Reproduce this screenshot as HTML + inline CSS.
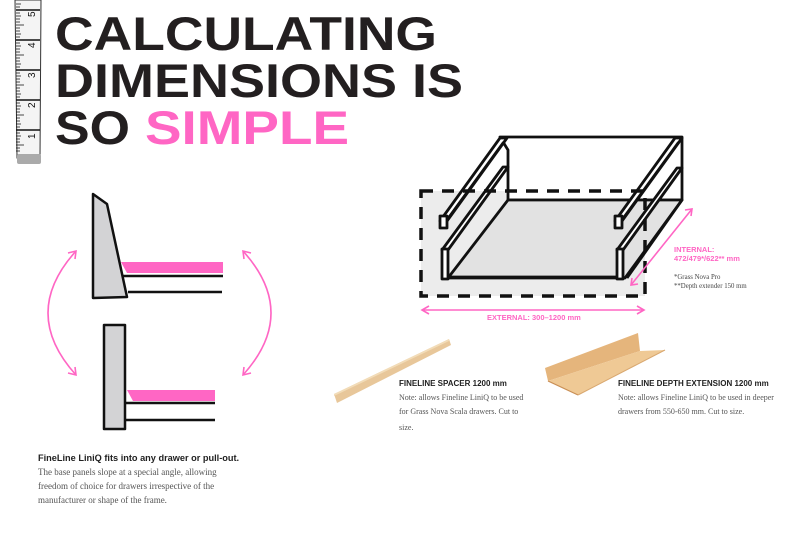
<!DOCTYPE html>
<html><head><meta charset="utf-8"><style>
html,body{margin:0;padding:0;background:#fff;}
body{width:800px;height:533px;overflow:hidden;position:relative;}
svg{position:absolute;left:0;top:0;}
</style></head><body>
<svg width="800" height="533" viewBox="0 0 800 533" xmlns="http://www.w3.org/2000/svg">
<!-- tape measure -->
<g>
<polygon points="15,0 41,0 40,158 17,158" fill="#f4f4f4" stroke="#333" stroke-width="1"/>
<rect x="17" y="154" width="24" height="10" rx="2" fill="#aaa"/>
<g stroke="#111" stroke-width="1.5">
<line x1="16" y1="10" x2="40" y2="10"/>
<line x1="16" y1="40" x2="40" y2="40"/>
<line x1="16" y1="70" x2="40" y2="70"/>
<line x1="16" y1="100" x2="40" y2="100"/>
<line x1="16" y1="130" x2="40" y2="130"/>
</g>
<g stroke="#111" stroke-width="0.8">
<path d="M16 4h5M16 7h4M16 13h4M16 16h5M16 19h4M16 22h4M16 25h8M16 28h4M16 31h4M16 34h5M16 37h4M16 43h4M16 46h5M16 49h4M16 52h4M16 55h8M16 58h4M16 61h4M16 64h5M16 67h4M16 73h4M16 76h5M16 79h4M16 82h4M16 85h8M16 88h4M16 91h4M16 94h5M16 97h4M16 103h4M16 106h5M16 109h4M16 112h4M16 115h8M16 118h4M16 121h4M16 124h5M16 127h4M16 133h4M16 136h5M16 139h4M16 142h4M16 145h8M16 148h4M16 151h4"/>
</g>
<g font-family="Liberation Sans, sans-serif" font-size="10" fill="#111">
<text transform="translate(35,17) rotate(-90)">5</text>
<text transform="translate(35,48) rotate(-90)">4</text>
<text transform="translate(35,78) rotate(-90)">3</text>
<text transform="translate(35,108) rotate(-90)">2</text>
<text transform="translate(35,139) rotate(-90)">1</text>
</g>
</g>
<!-- title -->
<g font-family="Liberation Sans, sans-serif" font-weight="bold" font-size="47">
<text x="55" y="50" fill="#231f20" textLength="382" lengthAdjust="spacingAndGlyphs">CALCULATING</text>
<text x="55" y="97" fill="#231f20" textLength="408" lengthAdjust="spacingAndGlyphs">DIMENSIONS IS</text>
<text x="55" y="144" fill="#231f20" textLength="75" lengthAdjust="spacingAndGlyphs">SO</text>
<text x="145" y="144" fill="#ff66c4" textLength="204" lengthAdjust="spacingAndGlyphs">SIMPLE</text>
</g>
<!-- left figure -->
<g stroke="#111" stroke-width="2.5" stroke-linejoin="round">
<polygon points="93,194 107,204 127,297 93,298" fill="#d3d3d5"/>
<polygon points="121,262 223,262 223,273 127,273" fill="#ff66c4" stroke="none"/>
<line x1="122" y1="276" x2="223" y2="276"/>
<line x1="128" y1="292" x2="222" y2="292"/>
<rect x="104" y="325" width="21" height="104" fill="#d3d3d5"/>
<polygon points="127,390 215,390 215,401 133,401" fill="#ff66c4" stroke="none"/>
<line x1="125" y1="403" x2="215" y2="403"/>
<line x1="125" y1="420" x2="215" y2="420"/>
</g>
<g stroke="#ff66c4" stroke-width="1.6" fill="none">
<path d="M76 251 Q20 313 76 375"/>
<path d="M68 253 L76 251 L75 259 M68 373 L76 375 L75 367"/>
<path d="M243 251 Q299 313 243 375"/>
<path d="M251 253 L243 251 L244 259 M251 373 L243 375 L244 367"/>
</g>
<text x="38" y="461" font-family="Liberation Sans, sans-serif" font-weight="bold" font-size="9.2" fill="#222">FineLine LiniQ fits into any drawer or pull-out.</text>
<g font-family="Liberation Serif, serif" font-size="9" fill="#555">
<text x="38" y="475">The base panels slope at a special angle, allowing</text>
<text x="38" y="489">freedom of choice for drawers irrespective of the</text>
<text x="38" y="503">manufacturer or shape of the frame.</text>
</g>
<!-- drawer -->
<rect x="421" y="191" width="224" height="105" fill="#ececec"/>
<g stroke="#111" stroke-width="2.8" fill="none" stroke-linejoin="round">
<polygon points="500,137 682,137 682,200 508,200 508,150" fill="#fff"/>
<polygon points="508,200 682,200 625,278 448,278" fill="#e2e2e2"/>
<line x1="682" y1="200" x2="627" y2="278"/>
<polygon points="500,138 507,138 447,221 440,221" fill="#fff"/>
<line x1="503" y1="142" x2="444" y2="223" stroke-width="1.5"/>
<rect x="440" y="216" width="7" height="12" fill="#fff"/>
<polygon points="503,167 508,167 448,250 442,250" fill="#fff"/>
<rect x="442" y="249" width="6" height="30" fill="#fff"/>
<polygon points="675,138 682,138 622,221 615,221" fill="#fff"/>
<line x1="678" y1="142" x2="619" y2="223" stroke-width="1.5"/>
<rect x="615" y="216" width="7" height="12" fill="#fff"/>
<polygon points="677,168 682,168 623,250 617,250" fill="#fff"/>
<rect x="617" y="249" width="6" height="30" fill="#fff"/>
<line x1="448" y1="277" x2="617" y2="277"/>
</g>
<rect x="421" y="191" width="224" height="105" fill="none" stroke="#111" stroke-width="3.5" stroke-dasharray="12,9"/>
<g stroke="#ff66c4" stroke-width="1.6" fill="none">
<line x1="423" y1="310" x2="643" y2="310"/>
<path d="M429 306 L422 310 L429 314 M637 306 L644 310 L637 314"/>
<line x1="692" y1="209" x2="631" y2="285"/>
<path d="M685 210 L692 209 L691 216 M632 278 L631 285 L638 284"/>
</g>
<g font-family="Liberation Sans, sans-serif" font-weight="bold" font-size="7.5" fill="#ff66c4">
<text x="487" y="320">EXTERNAL: 300–1200 mm</text>
<text x="674" y="252">INTERNAL:</text>
<text x="674" y="261">472/479*/622** mm</text>
</g>
<g font-family="Liberation Serif, serif" font-size="6.8" fill="#444">
<text x="674" y="279">*Grass Nova Pro</text>
<text x="674" y="288">**Depth extender 150 mm</text>
</g>
<!-- products -->
<polygon points="334,394 449,339 451,345 337,403" fill="#e8c79a"/>
<polygon points="334,394 449,339 449,341 334,396" fill="#f2dcb8"/>
<polygon points="545,368 638,333 640,351 548,381" fill="#e5b57c"/>
<polygon points="548,381 640,351 665,350 578,395" fill="#efc995"/>
<line x1="548" y1="381" x2="578" y2="395" stroke="#c98f55" stroke-width="1.2"/>
<line x1="578" y1="395" x2="665" y2="350" stroke="#d9a870" stroke-width="1"/>
<g font-family="Liberation Sans, sans-serif" font-weight="bold" font-size="8" fill="#222">
<text x="399" y="386">FINELINE SPACER 1200 mm</text>
<text x="618" y="386">FINELINE DEPTH EXTENSION 1200 mm</text>
</g>
<g font-family="Liberation Serif, serif" font-size="8" fill="#555">
<text x="399" y="400">Note: allows Fineline LiniQ to be used</text>
<text x="399" y="414">for Grass Nova Scala drawers. Cut to</text>
<text x="399" y="430">size.</text>
<text x="618" y="400">Note: allows Fineline LiniQ to be used in deeper</text>
<text x="618" y="414">drawers from 550-650 mm. Cut to size.</text>
</g>
</svg>
</body></html>
